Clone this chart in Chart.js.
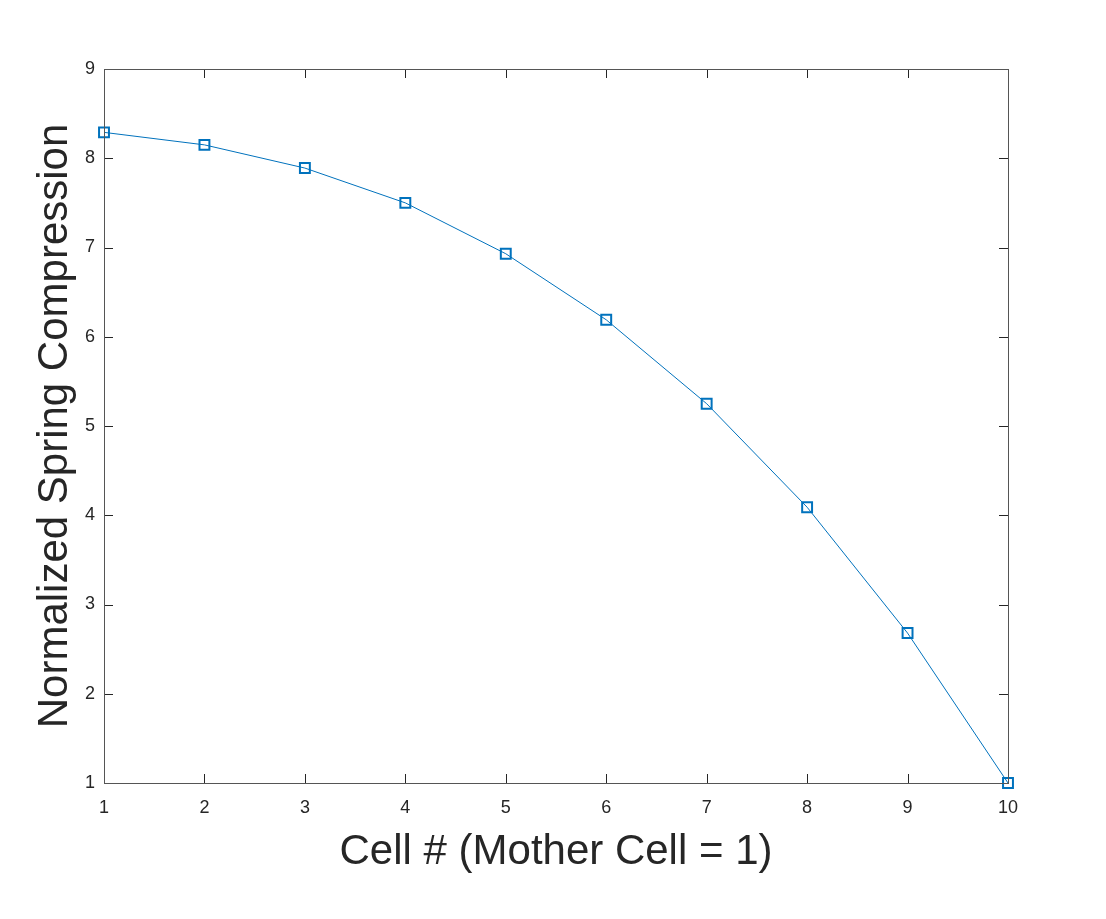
<!DOCTYPE html>
<html>
<head>
<meta charset="utf-8">
<script src="https://cdn.jsdelivr.net/npm/chart.js@4/dist/chart.umd.min.js"></script>
<style>
html,body{margin:0;padding:0;background:#fff;}
#wrap{width:1106px;height:919px;}
</style>
</head>
<body>
<div id="wrap"><canvas id="c" width="1106" height="919"></canvas></div>
<script>
const cells = [1, 2, 3, 4, 5, 6, 7, 8, 9, 10];
const compression = [8.29, 8.15, 7.89, 7.50, 6.93, 6.19, 5.25, 4.09, 2.68, 1.00];
const xTicks = [1, 2, 3, 4, 5, 6, 7, 8, 9, 10];
const yTicks = [1, 2, 3, 4, 5, 6, 7, 8, 9];
const xTitle = 'Cell # (Mother Cell = 1)';
const yTitle = 'Normalized Spring Compression';

const FONT = "'Liberation Sans', Arial, Helvetica, sans-serif";
const AX = '#262626';

const boxTicks = {
  id: 'boxTicks',
  afterDatasetsDraw(chart) {
    const {ctx, chartArea: a, scales: {x, y}} = chart;
    const L = 9;
    ctx.save();
    ctx.strokeStyle = AX;
    ctx.lineWidth = 1;
    ctx.beginPath();
    xTicks.forEach(v => {
      const px = Math.round(x.getPixelForValue(v)) + 0.5;
      ctx.moveTo(px, a.bottom); ctx.lineTo(px, a.bottom - L);
      ctx.moveTo(px, a.top); ctx.lineTo(px, a.top + L);
    });
    yTicks.forEach(v => {
      const py = Math.round(y.getPixelForValue(v)) + 0.5;
      ctx.moveTo(a.left, py); ctx.lineTo(a.left + L, py);
      ctx.moveTo(a.right, py); ctx.lineTo(a.right - L, py);
    });
    ctx.stroke();
    ctx.strokeStyle = '#555';
    ctx.strokeRect(Math.round(a.left) + 0.5, Math.round(a.top) + 0.5,
      Math.round(a.right - a.left), Math.round(a.bottom - a.top));
    ctx.restore();
  }
};

new Chart(document.getElementById('c'), {
  type: 'line',
  data: {
    datasets: [{
      data: cells.map((c, i) => ({x: c, y: compression[i]})),
      borderColor: '#0072BD',
      borderWidth: 1,
      backgroundColor: 'rgba(0,0,0,0)',
      pointStyle: 'rect',
      pointRadius: 7,
      pointBorderWidth: 2,
      pointBorderColor: '#0072BD',
      pointBackgroundColor: 'rgba(0,0,0,0)',
      pointHoverRadius: 7,
      tension: 0,
      clip: false
    }]
  },
  plugins: [boxTicks],
  options: {
    responsive: false,
    animation: false,
    events: [],
    layout: {padding: {top: 69, right: 98, bottom: 0, left: 0}},
    plugins: {legend: {display: false}, tooltip: {enabled: false}},
    scales: {
      x: {
        type: 'linear', min: 1, max: 10,
        afterBuildTicks(s) { s.ticks = xTicks.map(v => ({value: v})); },
        afterFit(s) { s.height = 136; },
        grid: {display: false, drawTicks: false},
        border: {display: false},
        ticks: {color: AX, font: {family: FONT, size: 18}, padding: 14, maxRotation: 0, autoSkip: false},
        title: {display: true, text: xTitle, color: AX, font: {family: FONT, size: 42}, padding: {bottom: 41}}
      },
      y: {
        type: 'linear', min: 1, max: 9,
        afterBuildTicks(s) { s.ticks = yTicks.map(v => ({value: v})); },
        afterFit(s) { s.width = 104; },
        grid: {display: false, drawTicks: false},
        border: {display: false},
        ticks: {color: AX, font: {family: FONT, size: 18}, padding: 9, autoSkip: false},
        title: {display: true, text: yTitle, color: AX, font: {family: FONT, size: 42}, padding: {top: 30}}
      }
    }
  }
});
</script>
</body>
</html>
